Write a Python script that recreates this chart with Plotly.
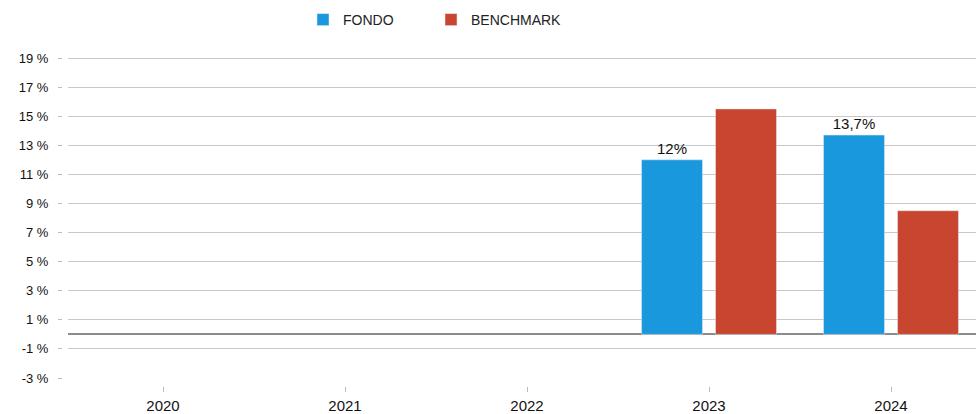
import plotly.graph_objects as go

years = ["2020", "2021", "2022", "2023", "2024"]
fondo = [None, None, None, 12.0, 13.7]
benchmark = [None, None, None, 15.5, 8.5]
y_ticks = [-3, -1, 1, 3, 5, 7, 9, 11, 13, 15, 17, 19]
grid_ticks = [-1, 1, 3, 5, 7, 9, 11, 13, 15, 17, 19]
y_tick_text = [f"{v} %" for v in y_ticks]

W, H = 976, 414


def fmt(v):
    if v is None:
        return ""
    return f"{v:g}".replace(".", ",") + "%"


fondo_text = [fmt(v) for v in fondo]

fig = go.Figure()
fig.add_trace(go.Bar(
    name="FONDO", x=years, y=fondo, marker_color="#1a98de",
    text=fondo_text, textposition="outside", cliponaxis=False,
    textfont=dict(family="Liberation Sans, Arial", size=15, color="#111"),
    hoverinfo="skip", legend="legend",
))
fig.add_trace(go.Bar(
    name="BENCHMARK", x=years, y=benchmark, marker_color="#c8452f",
    hoverinfo="skip", legend="legend2",
))
# helper trace for the grid axis
fig.add_trace(go.Scatter(x=[years[0]], y=[None], yaxis="y2", showlegend=False,
                         hoverinfo="skip", mode="markers"))

# pixel layout targets (page = figure, body margin removed below)
y_bottom_px, y_top_px = 378, 50
y19_px = 58
px_per_unit = (378 - 58) / 22.0
y_range = [-3, 19 + (y19_px - y_top_px) / px_per_unit]
cat_px = 182.0
x_first_px = 163.0
plot_left_px = 68
x_range = [-(x_first_px - plot_left_px) / cat_px, (W - x_first_px) / cat_px]

legend_style = dict(
    orientation="h", xanchor="left", y=1 - 4 / H, yanchor="top",
    font=dict(size=14, color="#222"), bgcolor="rgba(0,0,0,0)",
)

fig.update_layout(
    width=W, height=H,
    margin=dict(l=0, r=0, t=0, b=0, autoexpand=False),
    paper_bgcolor="white", plot_bgcolor="white",
    barmode="group", bargap=0.187, bargroupgap=0.1757,
    font=dict(family="Liberation Sans, Arial", size=12, color="#222"),
    legend=dict(x=303 / W, **legend_style),
    legend2=dict(x=431 / W, **legend_style),
    xaxis=dict(
        type="category", range=x_range, automargin=False,
        domain=[plot_left_px / W, 1],
        anchor="free", position=(H - 386) / H,
        showgrid=False, zeroline=False, showline=False,
        ticks="outside", ticklen=5, tickcolor="#bbbbbb", tickwidth=1,
        tickfont=dict(size=15, color="#111"),
        ticklabelstandoff=1,
    ),
    yaxis=dict(
        range=y_range, automargin=False,
        domain=[(H - y_bottom_px) / H, (H - y_top_px) / H],
        anchor="free", position=62 / W,
        tickvals=y_ticks, ticktext=y_tick_text,
        showgrid=False,
        zeroline=True, zerolinecolor="#8c8c8c", zerolinewidth=2,
        showline=False,
        ticks="outside", ticklen=4, tickcolor="#bbbbbb", tickwidth=1,
        tickfont=dict(size=13, color="#111"),
        ticklabelstandoff=7,
    ),
    yaxis2=dict(
        range=y_range, overlaying="y", automargin=False,
        anchor="free", position=plot_left_px / W,
        tickvals=grid_ticks, showticklabels=False, ticks="",
        showgrid=True, gridcolor="#c8c8c8", gridwidth=1,
        zeroline=False, showline=False,
    ),
    showlegend=True,
)

fig.write_html(
    "out.html",
    config={"displayModeBar": False},
    post_script="document.body.style.margin='0';document.body.style.overflow='hidden';",
)
